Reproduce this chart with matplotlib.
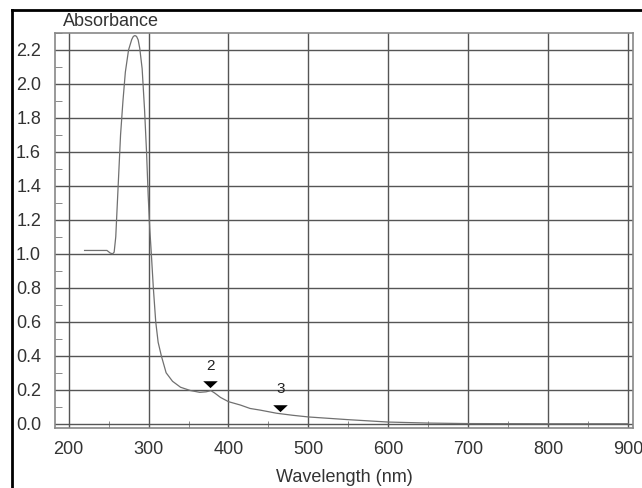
import matplotlib
matplotlib.use("Agg")
import matplotlib.pyplot as plt
from matplotlib.ticker import MultipleLocator
from matplotlib.lines import Line2D

plt.rcParams['font.family'] = ['Liberation Sans', 'DejaVu Sans']

wavelength = [220, 230, 240, 248, 252, 255, 257, 259, 261, 263, 265, 268, 271, 275, 279, 281, 283,
              285, 287, 289, 292, 295, 297.5, 299.5, 301.5, 303.5, 306, 309, 312, 316, 322, 330,
              340, 352, 364, 372, 378, 383, 390, 400, 415, 427, 440, 460, 480, 500, 525,
              550, 575, 600, 650, 700, 800, 900]
absorbance = [1.02, 1.02, 1.02, 1.02, 1.005, 1.0, 1.01, 1.1, 1.3, 1.5, 1.7, 1.9, 2.07, 2.2, 2.262, 2.28, 2.285,
              2.28, 2.26, 2.21, 2.09, 1.85, 1.6, 1.35, 1.15, 1.0, 0.8, 0.6, 0.48, 0.4, 0.3, 0.25,
              0.215, 0.196, 0.185, 0.188, 0.195, 0.18, 0.155, 0.13, 0.11, 0.09, 0.08, 0.062, 0.05, 0.04, 0.032,
              0.024, 0.017, 0.01, 0.004, 0.001, 0.0, 0.0]

peak_labels = ["2", "3"]
peak_x = [377.5, 465]
peak_y = [0.233, 0.094]
label_y = [0.34, 0.205]

xticks = [200, 300, 400, 500, 600, 700, 800, 900]
yticks = [0.0, 0.2, 0.4, 0.6, 0.8, 1.0, 1.2, 1.4, 1.6, 1.8, 2.0, 2.2]

fig = plt.figure(figsize=(6.42, 4.88), dpi=100)
ax = fig.add_axes([55/642, 1-428/488, (633-55)/642, (428-33)/488])

ax.plot(wavelength, absorbance, color='#707070', lw=0.9, zorder=3)
flat_tri = [(-1.0, 0.45), (1.0, 0.45), (0.0, -0.5), (-1.0, 0.45)]
ax.scatter(peak_x, peak_y, marker=flat_tri, s=110, color='black', linewidths=0, zorder=4)
for lab, x, y in zip(peak_labels, peak_x, label_y):
    ax.text(x, y, lab, ha='center', va='center', fontsize=11, color='#222222')

ax.set_xlim(183, 906)
ax.set_ylim(-0.025, 2.30)
ax.set_xticks(xticks)
ax.set_yticks(yticks)
ax.set_xticklabels([str(t) for t in xticks])
ax.set_yticklabels([f"{t:.1f}" for t in yticks])
ax.xaxis.set_minor_locator(MultipleLocator(50))
ax.yaxis.set_minor_locator(MultipleLocator(0.1))
ax.grid(True, which='major', color='#555555', lw=1.0)
ax.set_axisbelow(True)
ax.tick_params(which='both', direction='in', colors='#777777', labelcolor='#333333', labelsize=13)
ax.tick_params(which='major', length=0, pad=9)
ax.tick_params(which='minor', length=5)
ax.tick_params(axis='y', pad=10)
for s in ax.spines.values():
    s.set_color('#888888')
    s.set_linewidth(1.2)

fig.text(63/642, 1-22/488, "Absorbance", ha='left', va='center', fontsize=13, color='#333333')
fig.text(344/642, 1-478/488, "Wavelength (nm)", ha='center', va='center', fontsize=13, color='#333333')

# outer frame (partially cropped)
fig.add_artist(Line2D([12/642, 12/642], [0, 1-10/488], color='black', lw=2, transform=fig.transFigure))
fig.add_artist(Line2D([12/642, 1], [1-10/488, 1-10/488], color='black', lw=2, transform=fig.transFigure))

fig.savefig("out.png", dpi=100)
